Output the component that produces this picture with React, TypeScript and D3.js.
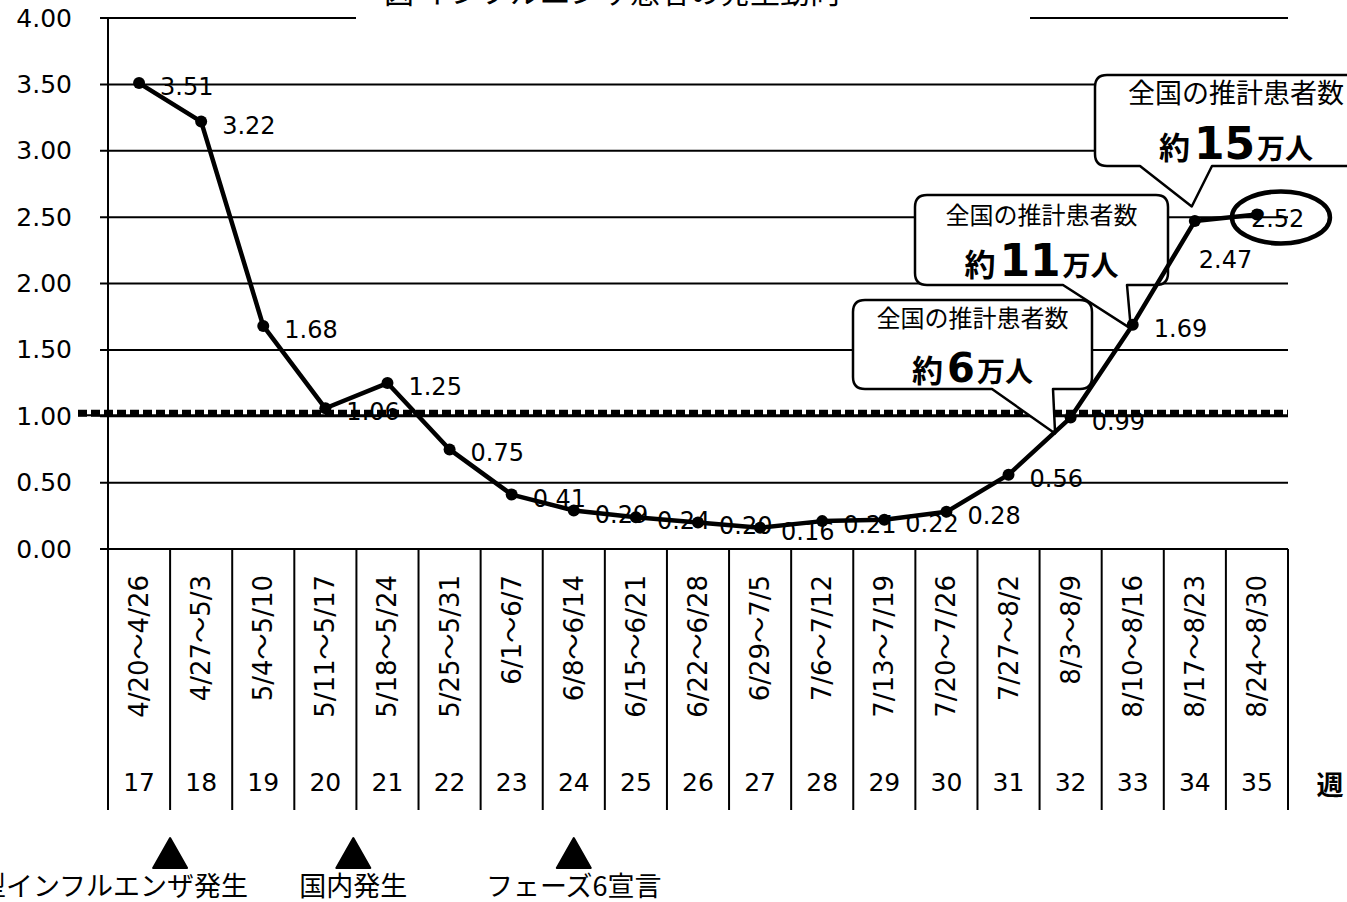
import React from 'react';
import * as d3 from 'd3';

// 週番号・期間・定点当たり報告数
const weeks = [17, 18, 19, 20, 21, 22, 23, 24, 25, 26, 27, 28, 29, 30, 31, 32, 33, 34, 35];
const dateRanges = [
  '4/20～4/26', '4/27～5/3', '5/4～5/10', '5/11～5/17', '5/18～5/24', '5/25～5/31',
  '6/1～6/7', '6/8～6/14', '6/15～6/21', '6/22～6/28', '6/29～7/5', '7/6～7/12',
  '7/13～7/19', '7/20～7/26', '7/27～8/2', '8/3～8/9', '8/10～8/16', '8/17～8/23', '8/24～8/30'
];
const rates = [3.51, 3.22, 1.68, 1.06, 1.25, 0.75, 0.41, 0.29, 0.24, 0.2, 0.16, 0.21, 0.22, 0.28, 0.56, 0.99, 1.69, 2.47, 2.52];
const rateLabels = ['3.51', '3.22', '1.68', '1.06', '1.25', '0.75', '0.41', '0.29', '0.24', '0.20', '0.16', '0.21', '0.22', '0.28', '0.56', '0.99', '1.69', '2.47', '2.52'];
const yTicks = [0, 0.5, 1, 1.5, 2, 2.5, 3, 3.5, 4];
const threshold = 1.0;

const events = [
  { week: 17.5, label: '新型インフルエンザ発生', anchor: 'end' },
  { week: 20.45, label: '国内発生', anchor: 'middle' },
  { week: 24, label: 'フェーズ6宣言', anchor: 'middle' }
];

const callouts = [
  { count: '6', tipWeek: 31.75, tipValue: 0.87, numSize: 40, titleSize: 24 },
  { count: '11', tipWeek: 32.97, tipValue: 1.66, numSize: 44, titleSize: 24 },
  { count: '15', tipWeek: 33.95, tipValue: 2.58, numSize: 44, titleSize: 27 }
];

// 吹き出しの配置（px）
const calloutBoxes = [
  { x: 853, y: 300, w: 239, h: 89, baseL: 992, baseR: 1053, l1: 27, l2: 82 },
  { x: 915, y: 195, w: 253, h: 90, baseL: 1063, baseR: 1127, l1: 29, l2: 81 },
  { x: 1095, y: 75, w: 282, h: 91, baseL: 1140, baseR: 1212, l1: 28, l2: 84 }
];

const labelShift: Record<number, [number, number]> = {
  34: [4, 47],
  35: [-6, 13]
};

const numFont = "'DejaVu Sans', 'Noto Sans CJK JP', sans-serif";
const jpFont = "'Noto Sans CJK JP', sans-serif";

function calloutPath(b: typeof calloutBoxes[0], tip: [number, number]) {
  const r = 12;
  const right = b.x + b.w;
  const bottom = b.y + b.h;
  return [
    `M${b.x + r},${b.y}`,
    `L${right - r},${b.y}`,
    `Q${right},${b.y} ${right},${b.y + r}`,
    `L${right},${bottom - r}`,
    `Q${right},${bottom} ${right - r},${bottom}`,
    `L${b.baseR},${bottom}`,
    `L${tip[0]},${tip[1]}`,
    `L${b.baseL},${bottom}`,
    `L${b.x + r},${bottom}`,
    `Q${b.x},${bottom} ${b.x},${bottom - r}`,
    `L${b.x},${b.y + r}`,
    `Q${b.x},${b.y} ${b.x + r},${b.y}`,
    'Z'
  ].join(' ');
}

export default function App() {
  const width = 1347;
  const height = 902;
  const plot = { left: 108, right: 1288, top: 18, bottom: 549, tableBottom: 810 };

  const x = d3
    .scaleBand<number>()
    .domain(weeks)
    .range([plot.left, plot.right]);
  const xw = d3
    .scaleLinear()
    .domain([weeks[0] - 0.5, weeks[weeks.length - 1] + 0.5])
    .range([plot.left, plot.right]);
  const y = d3.scaleLinear().domain([0, 4]).range([plot.bottom, plot.top]);

  const cx = (w: number) => x(w)! + x.bandwidth() / 2;

  const line = d3
    .line<number>()
    .x((d, i) => cx(weeks[i]))
    .y(d => y(d));

  const boundaries = weeks.map(w => x(w)!).concat([plot.right]);

  return (
    <svg
      width={width}
      height={height}
      style={{ position: 'absolute', left: 0, top: 0, background: '#fff' }}
    >
      <rect width={width} height={height} fill="#fff" />

      {/* title (cut off at the top edge) */}
      <text
        x={612}
        y={3}
        textAnchor="middle"
        fontFamily={jpFont}
        fontSize={30}
        fill="#000"
      >
        図 インフルエンザ患者の発生動向
      </text>

      {/* grid lines and y axis */}
      <g>
        {yTicks.map(t => (
          <line
            key={t}
            x1={plot.left - 8}
            x2={plot.right}
            y1={y(t)}
            y2={y(t)}
            stroke="#000"
            strokeWidth={2}
          />
        ))}
        <rect x={356} y={y(4) - 6} width={674} height={12} fill="#fff" />
        {yTicks.map(t => (
          <text
            key={t}
            x={72}
            y={y(t)}
            textAnchor="end"
            dominantBaseline="central"
            fontFamily={numFont}
            fontSize={25}
          >
            {t.toFixed(2)}
          </text>
        ))}
        <line x1={plot.left} x2={plot.left} y1={plot.top} y2={plot.tableBottom} stroke="#000" strokeWidth={2} />
      </g>

      {/* table under the chart */}
      <g>
        {boundaries.map((bx, i) => (
          <line key={i} x1={bx} x2={bx} y1={plot.bottom} y2={plot.tableBottom} stroke="#000" strokeWidth={2} />
        ))}
        {weeks.map((w, i) => (
          <text
            key={`d${w}`}
            transform={`translate(${cx(w)}, 575) rotate(-90)`}
            textAnchor="end"
            dominantBaseline="central"
            fontFamily={numFont}
            fontSize={26}
          >
            {dateRanges[i]}
          </text>
        ))}
        {weeks.map(w => (
          <text
            key={`w${w}`}
            x={cx(w)}
            y={782}
            textAnchor="middle"
            dominantBaseline="central"
            fontFamily={numFont}
            fontSize={25}
          >
            {w}
          </text>
        ))}
        <text x={1330} y={783} textAnchor="middle" dominantBaseline="central" fontFamily={jpFont} fontWeight="bold" fontSize={27}>
          週
        </text>
      </g>

      {/* epidemic threshold */}
      <g>
        <line x1={78} x2={plot.right} y1={y(threshold) - 3} y2={y(threshold) - 3} stroke="#000" strokeWidth={7} strokeDasharray="9 4" />
        <line x1={78} x2={plot.right} y1={y(threshold) - 1} y2={y(threshold) - 1} stroke="#000" strokeWidth={2} />
      </g>

      {/* callouts */}
      <g>
        {callouts.map((c, i) => {
          const b = calloutBoxes[i];
          const tip: [number, number] = [xw(c.tipWeek), y(c.tipValue)];
          const mid = b.x + b.w / 2;
          return (
            <g key={c.count}>
              <path d={calloutPath(b, tip)} fill="#fff" stroke="#000" strokeWidth={2.5} strokeLinejoin="round" />
              <text x={mid} y={b.y + b.l1} textAnchor="middle" fontFamily={jpFont} fontSize={c.titleSize}>
                全国の推計患者数
              </text>
              <text x={mid} y={b.y + b.l2} textAnchor="middle" fontFamily={jpFont} fontWeight="bold">
                <tspan fontSize={31}>約</tspan>
                <tspan dx={4} fontSize={c.numSize} fontFamily="'DejaVu Sans', sans-serif" fontWeight="bold">
                  {c.count}
                </tspan>
                <tspan dx={2} fontSize={28}>万人</tspan>
              </text>
            </g>
          );
        })}
      </g>

      {/* series */}
      <path d={line(rates)!} fill="none" stroke="#000" strokeWidth={4.5} strokeLinejoin="round" />
      <g>
        {rates.map((v, i) => (
          <circle key={i} cx={cx(weeks[i])} cy={y(v)} r={6} fill="#000" />
        ))}
      </g>
      <g>
        {rates.map((v, i) => {
          const [dx, dy] = labelShift[weeks[i]] || [21, 12];
          return (
            <text
              key={i}
              x={cx(weeks[i]) + dx}
              y={y(v) + dy}
              fontFamily={numFont}
              fontSize={24}
            >
              {rateLabels[i]}
            </text>
          );
        })}
      </g>
      <ellipse
        cx={cx(weeks[weeks.length - 1]) + 24}
        cy={y(rates[rates.length - 1]) + 3}
        rx={49}
        ry={26}
        fill="none"
        stroke="#000"
        strokeWidth={4.5}
      />

      {/* events */}
      <g>
        {events.map(e => {
          const ex = xw(e.week);
          return (
            <g key={e.label}>
              <path d={`M${ex},838 L${ex + 17},868 L${ex - 17},868 Z`} fill="#000" strokeLinejoin="round" stroke="#000" strokeWidth={2} />
              <text
                x={e.anchor === 'end' ? ex + 78 : ex}
                y={896}
                textAnchor={e.anchor}
                fontFamily={jpFont}
                fontSize={27}
              >
                {e.label}
              </text>
            </g>
          );
        })}
      </g>
    </svg>
  );
}
